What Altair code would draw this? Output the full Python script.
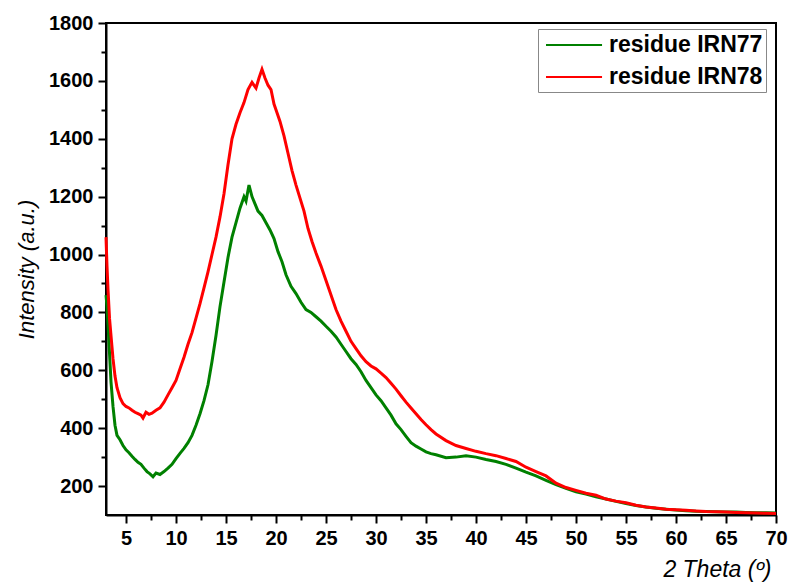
import altair as alt
import pandas as pd

# ---- data ----
x78 = [3.0, 3.1, 3.2, 3.35, 3.5, 3.7, 3.9, 4.1, 4.4, 4.7, 5.0, 5.3, 5.6, 5.9, 6.2, 6.5, 6.7, 7.0, 7.3, 7.6,
       8.0, 8.4, 8.8, 9.2, 9.6, 10.0, 10.4, 10.8, 11.2, 11.6, 12.0, 12.4, 12.8, 13.2, 13.6, 14.0, 14.4, 14.8,
       15.2, 15.6, 16.0, 16.4, 16.8, 17.2, 17.6, 18.0, 18.3, 18.6, 18.9, 19.2, 19.5, 19.8, 20.1, 20.4, 20.8,
       21.2, 21.6, 22.0, 22.4, 22.8, 23.2, 23.6, 24.0, 24.5, 25.0, 25.5, 26.0, 26.5, 27.0, 27.5, 28.0, 28.5,
       29.0, 29.5, 30.0, 30.5, 31.0, 31.5, 32.0, 32.5, 33.0, 33.5, 34.0, 34.5, 35.0, 35.5, 36.0, 37.0, 38.0,
       39.0, 40.0, 41.0, 42.0, 43.0, 44.0, 45.0, 46.0, 47.0, 48.0, 49.0, 50.0, 51.0, 52.0, 53.0, 54.0, 55.0,
       56.0, 57.0, 58.0, 59.0, 60.0, 61.0, 62.0, 63.0, 64.0, 65.0, 66.0, 67.0, 68.0, 69.0, 70.0]
y78 = [1060, 960, 880, 780, 720, 640, 580, 540, 505, 485, 475, 470, 462, 455, 450, 445, 435, 455, 448, 452,
       462, 470, 490, 515, 540, 565, 605, 645, 690, 730, 780, 830, 885, 940, 1000, 1060, 1130, 1210,
       1310, 1400, 1450, 1490, 1525, 1570, 1595, 1575, 1610, 1640, 1610, 1585, 1570, 1520, 1490, 1460, 1410,
       1350, 1290, 1240, 1195, 1150, 1090, 1045, 1005, 960, 910, 860, 810, 770, 735, 700, 675, 650,
       630, 615, 605, 590, 575, 555, 535, 512, 490, 470, 450, 430, 412, 395, 380, 357, 340,
       330, 320, 312, 305, 295, 285, 265, 250, 235, 210, 195, 185, 175, 168, 155, 148, 142,
       134, 128, 124, 120, 118, 116, 114, 112, 111, 110, 109, 108, 107, 106, 105]

x77 = [3.0, 3.1, 3.2, 3.35, 3.5, 3.7, 3.9, 4.1, 4.4, 4.7, 5.0, 5.3, 5.6, 5.9, 6.2, 6.5, 6.8, 7.1, 7.4, 7.7,
       8.0, 8.4, 8.8, 9.2, 9.6, 10.0, 10.4, 10.8, 11.2, 11.6, 12.0, 12.4, 12.8, 13.2, 13.6, 14.0, 14.4, 14.8,
       15.2, 15.6, 16.0, 16.4, 16.8, 17.0, 17.3, 17.6, 17.9, 18.2, 18.6, 19.0, 19.4, 19.8, 20.2, 20.6, 21.0,
       21.5, 22.0, 22.5, 23.0, 23.5, 24.0, 24.5, 25.0, 25.5, 26.0, 26.5, 27.0, 27.5, 28.0, 28.5, 29.0, 29.5,
       30.0, 30.5, 31.0, 31.5, 32.0, 32.5, 33.0, 33.5, 34.0, 34.5, 35.0, 35.5, 36.0, 37.0, 38.0, 39.0, 40.0,
       41.0, 42.0, 43.0, 44.0, 45.0, 46.0, 47.0, 48.0, 49.0, 50.0, 51.0, 52.0, 53.0, 54.0, 55.0, 56.0, 57.0,
       58.0, 59.0, 60.0, 61.0, 62.0, 63.0, 64.0, 65.0, 66.0, 67.0, 68.0, 69.0, 70.0]
y77 = [860, 820, 760, 660, 560, 475, 410, 375, 360, 340, 325, 315, 303, 292, 282, 275, 262, 250, 242, 232,
       245, 240, 250, 262, 275, 295, 313, 330, 350, 375, 410, 450, 495, 550, 630, 720, 820, 905,
       990, 1060, 1110, 1160, 1200, 1185, 1240, 1200, 1175, 1150, 1135, 1110, 1085, 1055, 1010, 975, 930,
       890, 865, 835, 810, 800, 785, 770, 752, 735, 715, 690, 665, 640, 620, 595, 565, 540,
       515, 495, 470, 445, 415, 395, 372, 350, 338, 328, 318, 312, 308, 298, 300, 305, 300,
       292, 285, 275, 262, 248, 235, 220, 205, 192, 180, 172, 163, 155, 147, 140, 133, 128,
       123, 120, 117, 115, 113, 112, 111, 110, 110, 109, 108, 108, 107]

series = ["residue IRN77", "residue IRN78"]
colors = ["#008000", "#ff0000"]

x_ticks = [5, 7.5, 10, 12.5, 15, 17.5, 20, 22.5, 25, 27.5, 30, 32.5, 35, 37.5, 40, 42.5, 45, 47.5,
           50, 52.5, 55, 57.5, 60, 62.5, 65, 67.5, 70]
y_ticks = [200, 300, 400, 500, 600, 700, 800, 900, 1000, 1100, 1200, 1300, 1400, 1500, 1600, 1700, 1800]

df = pd.concat([
    pd.DataFrame({"theta": x77, "intensity": y77, "sample": series[0]}),
    pd.DataFrame({"theta": x78, "intensity": y78, "sample": series[1]}),
], ignore_index=True)

FONT = "Liberation Sans"
xscale = alt.Scale(domain=[3, 70], nice=False, zero=False)
yscale = alt.Scale(domain=[100, 1800], nice=False, zero=False)

axis_common = dict(
    grid=False, domainColor="black", domainWidth=2, tickColor="black", tickWidth=2,
    labelColor="black", labelFont=FONT, labelFontSize=20, labelFontWeight="bold",
    labelFlush=False, labelOverlap=False,
)

x_axis = alt.Axis(
    values=x_ticks, orient="bottom",
    tickSize={"condition": {"test": "datum.value % 5 !== 0", "value": 5}, "value": 8},
    labelExpr="datum.value % 5 === 0 ? datum.label : ''",
    labelPadding=5,
    title="2 Theta (º)", titleFont=FONT, titleFontSize=23, titleFontStyle="italic",
    titleFontWeight="normal", titleColor="black", titleAnchor="end", titleAlign="right",
    titleX=665, titleY=61, titleBaseline="alphabetic", **axis_common,
)
y_axis = alt.Axis(
    values=y_ticks, orient="left", format="d",
    tickSize={"condition": {"test": "datum.value % 200 !== 0", "value": 5}, "value": 8},
    labelExpr="datum.value % 200 === 0 ? datum.label : ''",
    labelPadding=5,
    title="Intensity (a.u.)", titleFont=FONT, titleFontSize=22, titleFontStyle="italic",
    titleFontWeight="normal", titleColor="black", titleAnchor="middle", titleAlign="center",
    titleX=-68, titleY=246, titleBaseline="bottom", titleAngle=270, **axis_common,
)

chart = alt.Chart(df).mark_line(strokeWidth=3).encode(
    x=alt.X("theta:Q", scale=xscale, axis=x_axis),
    y=alt.Y("intensity:Q", scale=yscale, axis=y_axis),
    color=alt.Color(
        "sample:N",
        scale=alt.Scale(domain=series, range=colors),
        legend=alt.Legend(
            title=None, orient="none", legendX=432, legendY=6,
            symbolType="M-1,0H3.67", symbolSize=576, symbolStrokeWidth=2, symbolOffset=4,
            labelFont=FONT, labelFontSize=23, labelFontWeight="bold", labelColor="black",
            labelOffset=38, rowPadding=7, padding=3,
            strokeColor="#888888", fillColor="white",
        ),
    ),
).properties(
    width=670, height=492,
    autosize=alt.AutoSizeParams(type="none"),
    padding={"left": 106, "top": 23, "right": 16, "bottom": 70},
    background="white",
).configure_view(stroke="black", strokeWidth=2)

chart.save("out.html", embed_options={"renderer": "svg", "actions": False})
